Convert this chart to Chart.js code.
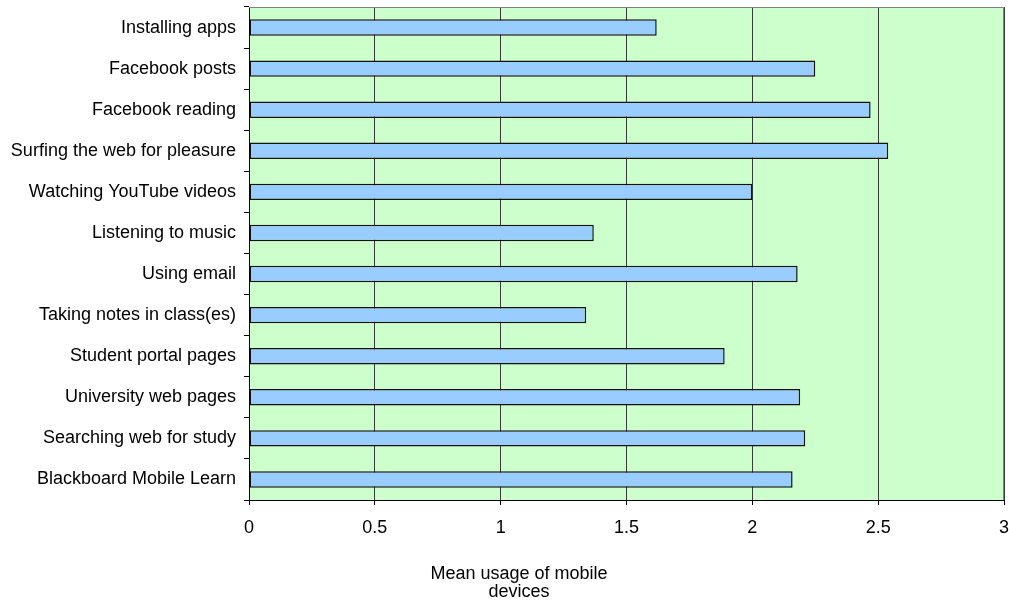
<!DOCTYPE html>
<html>
<head>
<meta charset="utf-8">
<script src="https://cdn.jsdelivr.net/npm/chart.js@4.4.1/dist/chart.umd.min.js"></script>
<style>
  html, body { margin: 0; padding: 0; background: #ffffff; }
  #wrap { width: 1009px; height: 603px; }
</style>
</head>
<body>
<div id="wrap"><canvas id="c" width="1009" height="603"></canvas></div>
<script>
// Activities and their mean usage scores
const activities = [
  "Installing apps",
  "Facebook posts",
  "Facebook reading",
  "Surfing the web for pleasure",
  "Watching YouTube videos",
  "Listening to music",
  "Using email",
  "Taking notes in class(es)",
  "Student portal pages",
  "University web pages",
  "Searching web for study",
  "Blackboard Mobile Learn"
];
const meanUsage = [1.62, 2.25, 2.47, 2.54, 2.00, 1.37, 2.18, 1.34, 1.89, 2.19, 2.21, 2.16];
const xTicks = [0, 0.5, 1, 1.5, 2, 2.5, 3];
const axisTitleLines = ["Mean usage of mobile", "devices"];

const FONT = "'Liberation Sans', Arial, sans-serif";

// Plot frame and the x-axis title, which sits left of centre below the axis
const framePlugin = {
  id: 'frame',
  beforeDatasetsDraw(chart) {
    const a = chart.chartArea, ctx = chart.ctx;
    ctx.save();
    ctx.strokeStyle = '#808080';
    ctx.lineWidth = 1;
    ctx.beginPath();
    ctx.moveTo(a.left, a.top + 0.5);
    ctx.lineTo(a.right - 0.5, a.top + 0.5);
    ctx.lineTo(a.right - 0.5, a.bottom);
    ctx.stroke();
    ctx.restore();
  },
  afterDraw(chart) {
    const ctx = chart.ctx;
    ctx.save();
    ctx.fillStyle = '#000000';
    ctx.font = "18px " + FONT;
    ctx.textAlign = 'center';
    ctx.textBaseline = 'middle';
    ctx.fillText(axisTitleLines[0], 519, 574);
    ctx.fillText(axisTitleLines[1], 519, 592);
    ctx.restore();
  }
};

const bgPlugin = {
  id: 'plotBg',
  beforeDraw(chart) {
    const a = chart.chartArea, ctx = chart.ctx;
    ctx.save();
    ctx.fillStyle = '#CCFFCC';
    ctx.fillRect(a.left, a.top, a.right - a.left, a.bottom - a.top);
    ctx.restore();
  }
};

new Chart(document.getElementById('c'), {
  type: 'bar',
  data: {
    labels: activities,
    datasets: [{
      data: meanUsage,
      backgroundColor: '#99CCFF',
      borderColor: '#111111',
      borderWidth: 1.5,
      borderSkipped: false,
      barPercentage: 0.4,
      categoryPercentage: 1.0
    }]
  },
  options: {
    indexAxis: 'y',
    responsive: false,
    animation: false,
    devicePixelRatio: 1,
    layout: { padding: { top: 7, right: 5, left: 0, bottom: 0 } },
    plugins: {
      legend: { display: false },
      tooltip: { enabled: false },
      title: { display: false }
    },
    scales: {
      x: {
        type: 'linear',
        min: 0,
        max: 3,
        afterBuildTicks(scale) { scale.ticks = xTicks.map(v => ({ value: v })); },
        afterFit(scale) {
          scale.height = 103;
          scale.paddingLeft = 0;
          scale.paddingRight = 0;
        },
        ticks: {
          color: '#000000',
          font: { family: FONT, size: 18 },
          padding: 12,
          maxRotation: 0,
          callback: v => String(v)
        },
        grid: {
          color: '#3a3a3a',
          lineWidth: 1,
          tickLength: 5,
          drawTicks: true,
          tickColor: '#000000'
        },
        border: { display: true, color: '#000000', width: 1 }
      },
      y: {
        type: 'category',
        offset: true,
        afterFit(scale) {
          scale.width = 249;
          scale.paddingTop = 0;
          scale.paddingBottom = 0;
        },
        ticks: {
          color: '#000000',
          font: { family: FONT, size: 18 },
          padding: 8,
          autoSkip: false
        },
        grid: {
          offset: true,
          drawOnChartArea: false,
          drawTicks: true,
          tickLength: 5,
          tickColor: '#000000'
        },
        border: { display: true, color: '#000000', width: 1 }
      }
    }
  },
  plugins: [bgPlugin, framePlugin]
});
</script>
</body>
</html>
